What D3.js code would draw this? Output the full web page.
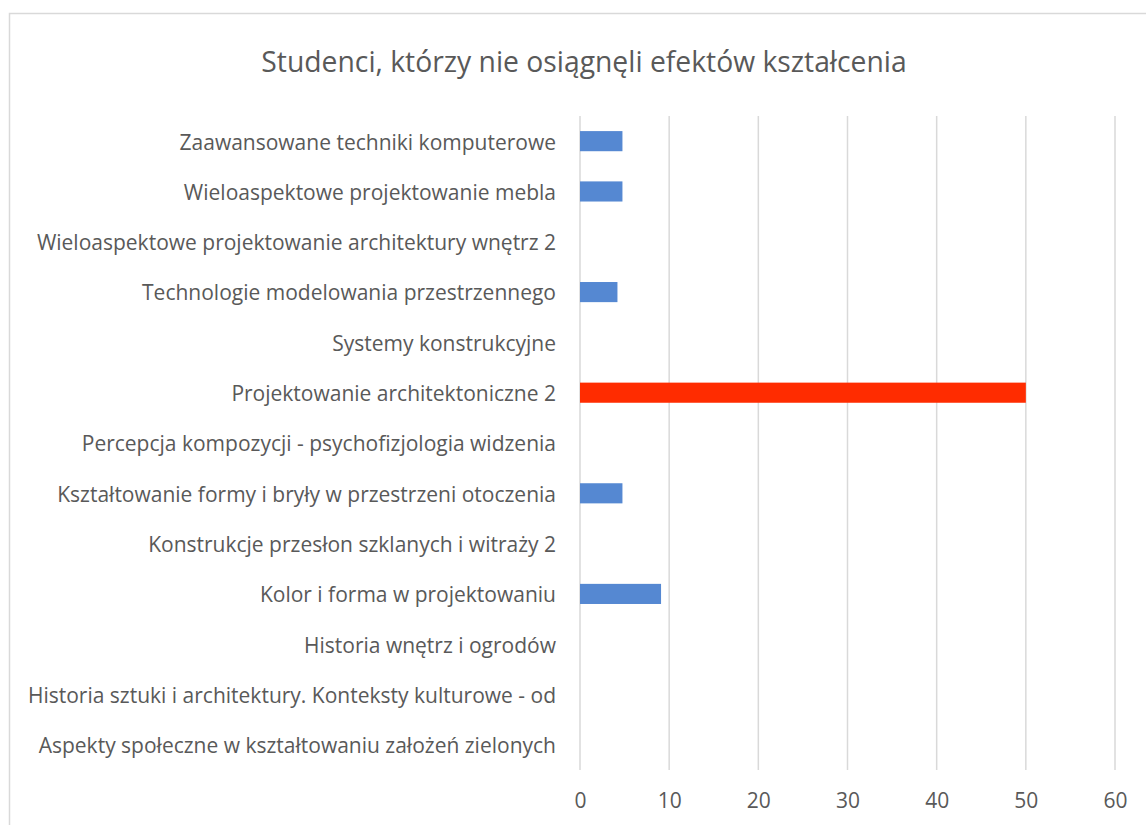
<!DOCTYPE html>
<meta charset="utf-8">
<script src="https://d3js.org/d3.v7.min.js"></script>
<style>
  body { margin: 0; background: #fff; }
  text { font-family: "Open Sans", sans-serif; fill: #595959; }
</style>
<div id="chart"></div>
<script>

// data, top to bottom as in the chart
const categories = [
  "Zaawansowane techniki komputerowe",
  "Wieloaspektowe projektowanie mebla",
  "Wieloaspektowe projektowanie architektury wnętrz 2",
  "Technologie modelowania przestrzennego",
  "Systemy konstrukcyjne",
  "Projektowanie architektoniczne 2",
  "Percepcja kompozycji - psychofizjologia widzenia",
  "Kształtowanie formy i bryły w przestrzeni otoczenia",
  "Konstrukcje przesłon szklanych i witraży 2",
  "Kolor i forma w projektowaniu",
  "Historia wnętrz i ogrodów",
  "Historia sztuki i architektury. Konteksty kulturowe - od",
  "Aspekty społeczne w kształtowaniu założeń zielonych"
];
const values = [4.76, 4.76, 0, 4.2, 0, 50, 0, 4.76, 0, 9.09, 0, 0, 0];
const highlight = "Projektowanie architektoniczne 2";
const xTicks = [0, 10, 20, 30, 40, 50, 60];

const W = 1146, H = 825;
const margin = {top: 116, right: 31, bottom: 55, left: 580};
const width = W - margin.left - margin.right,
      height = H - margin.top - margin.bottom;

const svg = d3.select("#chart")
  .append("svg")
    .attr("width", W)
    .attr("height", H);

// chart frame (runs off the picture right and bottom)
svg.append("rect")
    .attr("x", 9.5).attr("y", 13.5)
    .attr("width", W + 20).attr("height", H + 20)
    .attr("fill", "none")
    .attr("stroke", "#d9d9d9")
    .attr("stroke-width", 1.5);

svg.append("text")
    .attr("x", 584)
    .attr("y", 72)
    .attr("text-anchor", "middle")
    .style("font-size", "28.3px")
    .text("Studenci, którzy nie osiągnęli efektów kształcenia");

const g = svg.append("g")
    .attr("transform", `translate(${margin.left},${margin.top})`);

const x = d3.scaleLinear()
    .domain([0, 60])
    .range([0, width]);

const y = d3.scaleBand()
    .domain(categories)
    .range([0, height])
    .paddingInner(0.6)
    .paddingOuter(0.3);

// gridlines
g.append("g")
  .selectAll("line")
  .data(xTicks)
  .join("line")
    .attr("x1", d => x(d)).attr("x2", d => x(d))
    .attr("y1", 0).attr("y2", height)
    .attr("stroke", "#d9d9d9")
    .attr("stroke-width", 1.5);

// x axis labels
const xAxis = g.append("g")
    .attr("transform", `translate(0,${height})`)
    .call(d3.axisBottom(x).tickValues(xTicks).tickSize(0).tickPadding(23));
xAxis.select(".domain").remove();
xAxis.selectAll("text")
    .style("font-size", "21px")
    .style("font-family", "'Open Sans', sans-serif")
    .attr("fill", "#595959");

// category labels
const yAxis = g.append("g")
    .call(d3.axisLeft(y).tickSize(0).tickPadding(24));
yAxis.select(".domain").remove();
yAxis.selectAll("text")
    .attr("dy", "0.4em")
    .style("font-size", "21px")
    .style("font-family", "'Open Sans', sans-serif")
    .attr("fill", "#595959");

// bars
g.append("g")
  .selectAll("rect")
  .data(categories.map((c, i) => ({c: c, v: values[i]})))
  .join("rect")
    .attr("x", x(0))
    .attr("y", d => y(d.c))
    .attr("width", d => x(d.v) - x(0))
    .attr("height", y.bandwidth())
    .attr("fill", d => d.c === highlight ? "#ff2c00" : "#5588d2");

</script>
